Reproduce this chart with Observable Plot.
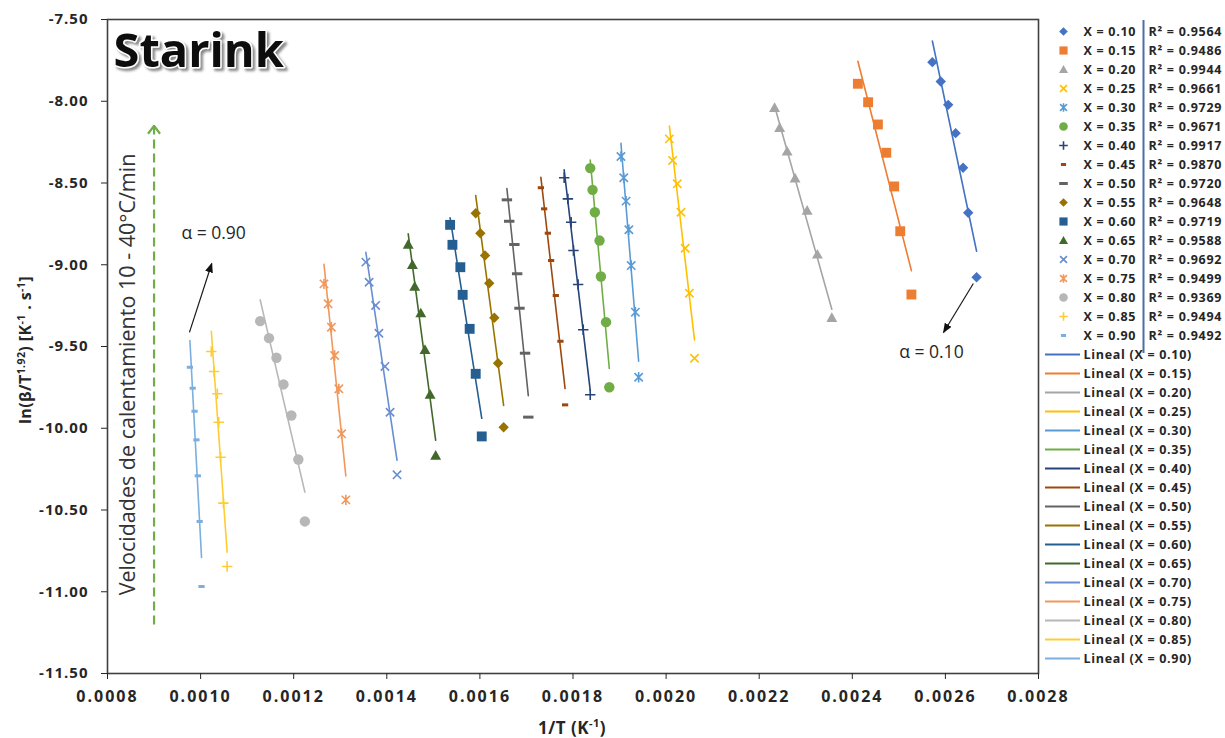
<!DOCTYPE html>
<html><head><meta charset="utf-8">
<script src="https://cdn.jsdelivr.net/npm/d3@7"></script>
<script src="https://cdn.jsdelivr.net/npm/@observablehq/plot@0.6"></script>
<style>
html,body{margin:0;padding:0;background:#fff;overflow:hidden;}
#wrap{position:relative;width:1225px;height:738px;}
#wrap svg{position:absolute;top:0;overflow:visible;}
</style></head>
<body><div id="wrap"></div>
<script>
// ---------- data ----------
const seriesLabels = ["0.10","0.15","0.20","0.25","0.30","0.35","0.40","0.45","0.50","0.55","0.60","0.65","0.70","0.75","0.80","0.85","0.90"];
const r2Values = [0.9564,0.9486,0.9944,0.9661,0.9729,0.9671,0.9917,0.9870,0.9720,0.9648,0.9719,0.9588,0.9692,0.9499,0.9369,0.9494,0.9492];
const colors = ["#4472C4","#ED7D31","#A5A5A5","#FFC000","#5B9BD5","#70AD47","#264478","#9E480E","#636363","#997300","#255E91","#43682B","#698ED0","#F1975A","#B7B7B7","#FFCD33","#7CAFDD"];
const markerOrder = ["diamond","square","triangle","times","star","circle","plus","dashShort","dashLong","diamond","square","triangle","times","star","circle","plus","dashShort"];
const invT = [
  [0.002572,0.002590,0.002606,0.002622,0.002638,0.002649,0.002667],
  [0.002412,0.002434,0.002455,0.002473,0.002490,0.002503,0.002527],
  [0.002233,0.002244,0.002260,0.002277,0.002303,0.002325,0.002356],
  [0.002007,0.002014,0.002024,0.002032,0.002041,0.002050,0.002061],
  [0.001903,0.001909,0.001914,0.001920,0.001925,0.001934,0.001941],
  [0.001837,0.001842,0.001847,0.001857,0.001860,0.001871,0.001878],
  [0.001781,0.001789,0.001796,0.001801,0.001811,0.001822,0.001837],
  [0.001731,0.001738,0.001746,0.001753,0.001763,0.001773,0.001783],
  [0.001658,0.001663,0.001674,0.001680,0.001685,0.001697,0.001704],
  [0.001591,0.001601,0.001611,0.001620,0.001631,0.001639,0.001651],
  [0.001536,0.001541,0.001558,0.001563,0.001578,0.001591,0.001604],
  [0.001446,0.001455,0.001460,0.001473,0.001482,0.001493,0.001505],
  [0.001355,0.001362,0.001376,0.001383,0.001396,0.001407,0.001422],
  [0.001265,0.001274,0.001281,0.001288,0.001297,0.001303,0.001312],
  [0.001128,0.001147,0.001163,0.001178,0.001195,0.001210,0.001224],
  [0.001023,0.001029,0.001036,0.001039,0.001043,0.001049,0.001057],
  [0.000977,0.000983,0.000987,0.000991,0.000994,0.000998,0.001002]
];
const lnValues = [
  [-7.761,-7.879,-8.022,-8.195,-8.407,-8.682,-9.076],
  [-7.893,-8.006,-8.142,-8.315,-8.521,-8.795,-9.182],
  [-8.040,-8.162,-8.307,-8.471,-8.668,-8.937,-9.324],
  [-8.230,-8.362,-8.505,-8.679,-8.899,-9.174,-9.572],
  [-8.338,-8.468,-8.611,-8.786,-9.005,-9.290,-9.688],
  [-8.409,-8.542,-8.679,-8.852,-9.072,-9.351,-9.749],
  [-8.468,-8.597,-8.740,-8.913,-9.121,-9.398,-9.795],
  [-8.529,-8.658,-8.807,-8.974,-9.188,-9.468,-9.857],
  [-8.603,-8.734,-8.876,-9.055,-9.266,-9.541,-9.932],
  [-8.685,-8.807,-8.943,-9.113,-9.324,-9.602,-9.994],
  [-8.756,-8.878,-9.015,-9.184,-9.392,-9.667,-10.050],
  [-8.876,-9.000,-9.133,-9.296,-9.520,-9.794,-10.167],
  [-8.984,-9.107,-9.249,-9.419,-9.622,-9.902,-10.285],
  [-9.117,-9.239,-9.382,-9.555,-9.759,-10.034,-10.438],
  [-9.345,-9.449,-9.569,-9.732,-9.922,-10.191,-10.570],
  [-9.531,-9.653,-9.789,-9.963,-10.177,-10.458,-10.846],
  [-9.627,-9.755,-9.896,-10.071,-10.291,-10.570,-10.968]
];
const xTicks = [0.0008,0.0010,0.0012,0.0014,0.0016,0.0018,0.0020,0.0022,0.0024,0.0026,0.0028];
const yTicks = [-7.5,-8.0,-8.5,-9.0,-9.5,-10.0,-10.5,-11.0,-11.5];
const alphaLabels = [{x:0.001028, y:-8.809, text:"α = 0.90"},{x:0.002570, y:-9.537, text:"α = 0.10"}];
const alphaArrows = [{x1:0.000976, y1:-9.414, x2:0.001024, y2:-8.992},{x1:0.002660, y1:-9.115, x2:0.002596, y2:-9.414}];
const rateArrow = [{x1:0.0009, y1:-11.2, x2:0.0009, y2:-8.15}];
const rateLabel = [{x:0.000845, y:-9.671, text:"Velocidades de calentamiento 10 - 40°C/min"}];
const chartTitle = ["Starink"];

// ---------- helpers ----------
const rows = seriesLabels.flatMap((s,i)=>invT[i].map((x,j)=>({series:"X = "+s, x, y:lnValues[i][j]})));
function sym(fn){ return {draw(ctx,size){ fn(ctx, Math.sqrt(size/Math.PI)); }}; }
const symbols = {
  diamond: sym((c,r)=>{c.moveTo(0,-r);c.lineTo(r,0);c.lineTo(0,r);c.lineTo(-r,0);c.closePath();}),
  square: sym((c,r)=>{const s=r*0.95;c.moveTo(-s,-s);c.lineTo(s,-s);c.lineTo(s,s);c.lineTo(-s,s);c.closePath();}),
  triangle: sym((c,r)=>{c.moveTo(0,-r*1.05);c.lineTo(r*1.05,r*0.8);c.lineTo(-r*1.05,r*0.8);c.closePath();}),
  circle: sym((c,r)=>{c.moveTo(r,0);c.arc(0,0,r,0,2*Math.PI);}),
  times: sym((c,r)=>{const s=r*0.8;c.moveTo(-s,-s);c.lineTo(s,s);c.moveTo(-s,s);c.lineTo(s,-s);}),
  star: sym((c,r)=>{const s=r*0.8;c.moveTo(-s,-s);c.lineTo(s,s);c.moveTo(-s,s);c.lineTo(s,-s);c.moveTo(0,-r);c.lineTo(0,r);}),
  plus: sym((c,r)=>{c.moveTo(-r,0);c.lineTo(r,0);c.moveTo(0,-r);c.lineTo(0,r);}),
  dashShort: sym((c,r)=>{c.moveTo(-r*0.6,0);c.lineTo(r*0.6,0);}),
  dashLong: sym((c,r)=>{c.moveTo(-r,0);c.lineTo(r,0);})
};
const filled = new Set(["diamond","square","triangle","circle"]);
function dotStyle(i){
  const m = markerOrder[i], f = filled.has(m);
  return {symbol: symbols[m], fill: f ? colors[i] : "none", stroke: f ? "none" : colors[i],
          strokeWidth: m.startsWith("dash") ? 3 : 1.6};
}
const FONT = "'Open Sans', sans-serif";

// ---------- main chart ----------
const chart = Plot.plot({
  width: 1045, height: 738,
  marginLeft: 107, marginTop: 19, marginRight: 7, marginBottom: 65,
  style: {fontFamily: FONT, color: "#262626", background: "transparent", overflow: "visible"},
  x: {domain: [0.0008, 0.0028]},
  y: {domain: [-11.5, -7.5]},
  color: {domain: seriesLabels.map(s=>"X = "+s), range: colors},
  marks: [
    Plot.frame({stroke: "#404040", strokeWidth: 1.6}),
    Plot.axisX({ticks: xTicks, tickFormat: d=>d.toFixed(4), tickSize: 6, tickPadding: 11, fontSize: 16, fontWeight: "bold", label: null}),
    Plot.axisY({ticks: yTicks, tickFormat: d=>d.toFixed(2), tickSize: 6, tickPadding: 13, fontSize: 15, fontWeight: "bold", label: null}),
    Plot.link(rateArrow, {x1:"x1", y1:"y1", x2:"x2", y2:"y2", stroke:"#70AD47", strokeWidth: 2.2, strokeDasharray: "9,5"}),
    Plot.text(rateLabel, {x:"x", y:"y", text:"text", rotate: -90, fontSize: 21.5, fill: "#333"}),
    Plot.linearRegressionY(rows, {x:"x", y:"y", stroke:"series", ci: 0, strokeWidth: 1.6}),
    ...seriesLabels.map((s,i)=>Plot.dot(rows.filter(d=>d.series==="X = "+s), {x:"x", y:"y", r:5.2, ...dotStyle(i)})),
    Plot.link(alphaArrows, {x1:"x1", y1:"y1", x2:"x2", y2:"y2", stroke:"#1a1a1a", strokeWidth: 1.2}),
    Plot.text(alphaLabels, {x:"x", y:"y", text:"text", fontSize: 17.5, fill: "#262626"}),
    Plot.text(chartTitle, {frameAnchor:"top-left", textAnchor:"start", lineAnchor:"top", dx: 6, dy: 14, fontSize: 47, fontWeight: "bold", fill:"#111", stroke:"white", strokeWidth: 3, paintOrder:"stroke"})
  ]
});
const svg = d3.select(chart);
svg.selectAll('g[aria-label="x-axis tick label"] text').style("letter-spacing","2px").attr("font-weight","bold");
svg.selectAll('g[aria-label="y-axis tick label"] text').style("letter-spacing","1px").attr("font-weight","bold");
const defs = svg.append("defs");
defs.append("marker").attr("id","ah").attr("viewBox","0 -4 10 8").attr("refX",9).attr("refY",0)
  .attr("markerWidth",10).attr("markerHeight",8).attr("markerUnits","userSpaceOnUse").attr("orient","auto")
  .append("path").attr("d","M0,-4L10,0L0,4Z").attr("fill","#111");
defs.append("marker").attr("id","vh").attr("viewBox","-1 -7 10 14").attr("refX",8).attr("refY",0)
  .attr("markerWidth",10).attr("markerHeight",14).attr("markerUnits","userSpaceOnUse").attr("orient","auto")
  .append("path").attr("d","M0,-6L8,0L0,6").attr("fill","none").attr("stroke","#70AD47").attr("stroke-width",2.2);
const shadow = defs.append("filter").attr("id","tshadow").attr("x","-10%").attr("y","-20%").attr("width","130%").attr("height","150%");
shadow.append("feDropShadow").attr("dx",2.5).attr("dy",2.5).attr("stdDeviation",0.8).attr("flood-color","#8a8a8a").attr("flood-opacity",1);
const linkGroups = svg.selectAll('g[aria-label="link"]').nodes();
if (linkGroups.length >= 2) {
  d3.select(linkGroups[0]).selectAll("path").attr("marker-end","url(#vh)");
  d3.select(linkGroups[1]).selectAll("path").attr("marker-end","url(#ah)");
}
const textGroups = svg.selectAll('g[aria-label="text"]').nodes();
if (textGroups.length) d3.select(textGroups[textGroups.length-1]).attr("filter","url(#tshadow)");
// axis titles with superscripts
const yt = svg.append("text").attr("transform","translate(31,350) rotate(-90)").attr("text-anchor","middle")
  .attr("font-size",16).attr("font-weight","bold").attr("fill","#262626").style("letter-spacing","0.4px");
yt.append("tspan").text("ln(β/T");
yt.append("tspan").attr("dy",-6).attr("font-size",10.5).text("1.92");
yt.append("tspan").attr("dy",6).text(") [K");
yt.append("tspan").attr("dy",-6).attr("font-size",10.5).text("-1");
yt.append("tspan").attr("dy",6).text(" . s");
yt.append("tspan").attr("dy",-6).attr("font-size",10.5).text("-1");
yt.append("tspan").attr("dy",6).text("]");
const xt = svg.append("text").attr("x",572).attr("y",734).attr("text-anchor","middle")
  .attr("font-size",17).attr("font-weight","bold").attr("fill","#262626").style("letter-spacing","0.5px");
xt.append("tspan").text("1/T (K");
xt.append("tspan").attr("dy",-7).attr("font-size",11).text("-1");
xt.append("tspan").attr("dy",7).text(")");
chart.style.left = "0px";

// ---------- legend ----------
const legTop = seriesLabels.map((s,i)=>({row:"X = "+s, label:"X = "+s, r2:"R² = "+r2Values[i].toFixed(4), color: colors[i]}));
const legBottom = seriesLabels.map((s,i)=>({row:"Lineal (X = "+s+")", label:"Lineal (X = "+s+")", color: colors[i]}));
const legendRows = [...legTop.map(d=>d.row), ...legBottom.map(d=>d.row)];
const legend = Plot.plot({
  width: 180, height: 738, margin: 0,
  style: {fontFamily: FONT, color: "#262626", background: "transparent"},
  x: {domain: [0,180], range: [0,180], axis: null},
  y: {type: "point", domain: legendRows, range: [22.7, 666], padding: 0, axis: null},
  color: {type: "identity"},
  marks: [
    Plot.ruleX([{x:98, y1: legTop[0].row, y2: legTop[16].row}], {x:"x", y1:"y1", y2:"y2", insetTop:-11, insetBottom:-18, stroke:"#4a6fa5", strokeWidth: 2}),
    ...legTop.map((d,i)=>Plot.dot([d], {x: 18, y: "row", r: 4.3, ...dotStyle(i)})),
    Plot.text(legTop, {x: 38, y: "row", text: "label", textAnchor: "start", fontSize: 12.5, fontWeight: "bold", fill: "#262626"}),
    Plot.text(legTop, {x: 103, y: "row", text: "r2", textAnchor: "start", fontSize: 12.5, fontWeight: "bold", fill: "#262626"}),
    Plot.ruleY(legBottom, {y: "row", x1: 0, x2: 35, stroke: "color", strokeWidth: 1.8}),
    Plot.text(legBottom, {x: 38, y: "row", text: "label", textAnchor: "start", fontSize: 12.5, fontWeight: "bold", fill: "#262626"})
  ]
});
d3.select(legend).selectAll("text").style("letter-spacing","0.7px");
legend.style.left = "1045px";
const wrap = document.getElementById("wrap");
wrap.appendChild(legend);
wrap.appendChild(chart);
</script>
</body></html>
